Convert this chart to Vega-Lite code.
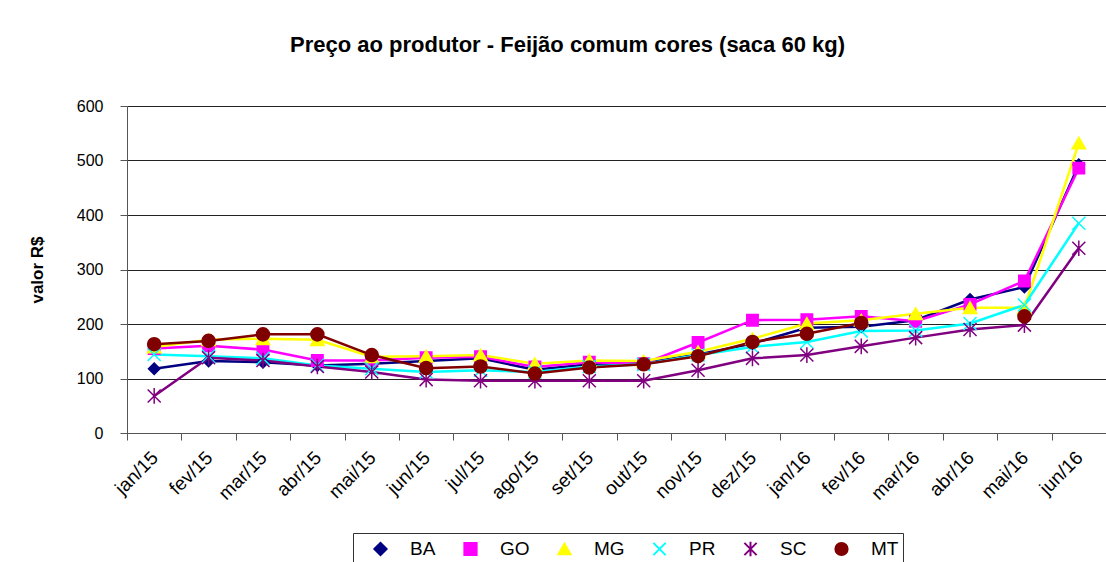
{
  "$schema": "https://vega.github.io/schema/vega-lite/v6.json",
  "width": 979,
  "height": 327,
  "autosize": {"type": "none"},
  "padding": {"left": 127, "top": 106, "right": 0, "bottom": 129},
  "background": "white",
  "config": {
    "font": "Liberation Sans",
    "view": {"stroke": null},
    "legend": {
      "orient": "none", "legendX": 226, "legendY": 427, "direction": "horizontal", "columns": 6,
      "strokeColor": "#333", "padding": 4, "symbolSize": 150, "symbolStrokeWidth": 2,
      "labelFont": "Liberation Sans", "labelFontSize": 19, "labelColor": "black",
      "symbolOffset": 14, "labelOffset": 20, "columnPadding": 11, "clipHeight": 24
    }
  },
  "title": {"text": "Preço ao produtor - Feijão comum cores (saca 60 kg)", "font": "Liberation Sans", "fontSize": 22, "fontWeight": "bold", "color": "black", "anchor": "middle", "frame": "group", "dx": -49, "offset": 41},
  "data": {"values": [
    {"mes":"jan/15","estado":"BA","valor":118},{"mes":"jan/15","estado":"GO","valor":155},{"mes":"jan/15","estado":"MG","valor":158},{"mes":"jan/15","estado":"PR","valor":144},{"mes":"jan/15","estado":"SC","valor":68},{"mes":"jan/15","estado":"MT","valor":163},
    {"mes":"fev/15","estado":"BA","valor":132},{"mes":"fev/15","estado":"GO","valor":160},{"mes":"fev/15","estado":"MG","valor":171},{"mes":"fev/15","estado":"PR","valor":141},{"mes":"fev/15","estado":"SC","valor":138},{"mes":"fev/15","estado":"MT","valor":169},
    {"mes":"mar/15","estado":"BA","valor":130},{"mes":"mar/15","estado":"GO","valor":153},{"mes":"mar/15","estado":"MG","valor":173},{"mes":"mar/15","estado":"PR","valor":137},{"mes":"mar/15","estado":"SC","valor":133},{"mes":"mar/15","estado":"MT","valor":181},
    {"mes":"abr/15","estado":"BA","valor":124},{"mes":"abr/15","estado":"GO","valor":133},{"mes":"abr/15","estado":"MG","valor":171},{"mes":"abr/15","estado":"PR","valor":124},{"mes":"abr/15","estado":"SC","valor":122},{"mes":"abr/15","estado":"MT","valor":181},
    {"mes":"mai/15","estado":"BA","valor":127},{"mes":"mai/15","estado":"GO","valor":133},{"mes":"mai/15","estado":"MG","valor":140},{"mes":"mai/15","estado":"PR","valor":118},{"mes":"mai/15","estado":"SC","valor":112},{"mes":"mai/15","estado":"MT","valor":143},
    {"mes":"jun/15","estado":"BA","valor":132},{"mes":"jun/15","estado":"GO","valor":138},{"mes":"jun/15","estado":"MG","valor":141},{"mes":"jun/15","estado":"PR","valor":112},{"mes":"jun/15","estado":"SC","valor":98},{"mes":"jun/15","estado":"MT","valor":119},
    {"mes":"jul/15","estado":"BA","valor":137},{"mes":"jul/15","estado":"GO","valor":140},{"mes":"jul/15","estado":"MG","valor":143},{"mes":"jul/15","estado":"PR","valor":115},{"mes":"jul/15","estado":"SC","valor":96},{"mes":"jul/15","estado":"MT","valor":122},
    {"mes":"ago/15","estado":"BA","valor":116},{"mes":"ago/15","estado":"GO","valor":121},{"mes":"ago/15","estado":"MG","valor":127},{"mes":"ago/15","estado":"PR","valor":112},{"mes":"ago/15","estado":"SC","valor":96},{"mes":"ago/15","estado":"MT","valor":109},
    {"mes":"set/15","estado":"BA","valor":126},{"mes":"set/15","estado":"GO","valor":130},{"mes":"set/15","estado":"MG","valor":133},{"mes":"set/15","estado":"PR","valor":122},{"mes":"set/15","estado":"SC","valor":96},{"mes":"set/15","estado":"MT","valor":120},
    {"mes":"out/15","estado":"BA","valor":129},{"mes":"out/15","estado":"GO","valor":127},{"mes":"out/15","estado":"MG","valor":132},{"mes":"out/15","estado":"PR","valor":126},{"mes":"out/15","estado":"SC","valor":96},{"mes":"out/15","estado":"MT","valor":126},
    {"mes":"nov/15","estado":"BA","valor":144},{"mes":"nov/15","estado":"GO","valor":166},{"mes":"nov/15","estado":"MG","valor":149},{"mes":"nov/15","estado":"PR","valor":143},{"mes":"nov/15","estado":"SC","valor":115},{"mes":"nov/15","estado":"MT","valor":141},
    {"mes":"dez/15","estado":"BA","valor":164},{"mes":"dez/15","estado":"GO","valor":207},{"mes":"dez/15","estado":"MG","valor":173},{"mes":"dez/15","estado":"PR","valor":158},{"mes":"dez/15","estado":"SC","valor":137},{"mes":"dez/15","estado":"MT","valor":167},
    {"mes":"jan/16","estado":"BA","valor":193},{"mes":"jan/16","estado":"GO","valor":208},{"mes":"jan/16","estado":"MG","valor":201},{"mes":"jan/16","estado":"PR","valor":167},{"mes":"jan/16","estado":"SC","valor":143},{"mes":"jan/16","estado":"MT","valor":182},
    {"mes":"fev/16","estado":"BA","valor":195},{"mes":"fev/16","estado":"GO","valor":214},{"mes":"fev/16","estado":"MG","valor":207},{"mes":"fev/16","estado":"PR","valor":187},{"mes":"fev/16","estado":"SC","valor":159},{"mes":"fev/16","estado":"MT","valor":202},
    {"mes":"mar/16","estado":"BA","valor":207},{"mes":"mar/16","estado":"GO","valor":205},{"mes":"mar/16","estado":"MG","valor":219},{"mes":"mar/16","estado":"PR","valor":188},{"mes":"mar/16","estado":"SC","valor":175},{"mes":"mar/16","estado":"MT","valor":null},
    {"mes":"abr/16","estado":"BA","valor":245},{"mes":"abr/16","estado":"GO","valor":236},{"mes":"abr/16","estado":"MG","valor":230},{"mes":"abr/16","estado":"PR","valor":201},{"mes":"abr/16","estado":"SC","valor":190},{"mes":"abr/16","estado":"MT","valor":null},
    {"mes":"mai/16","estado":"BA","valor":268},{"mes":"mai/16","estado":"GO","valor":279},{"mes":"mai/16","estado":"MG","valor":230},{"mes":"mai/16","estado":"PR","valor":235},{"mes":"mai/16","estado":"SC","valor":198},{"mes":"mai/16","estado":"MT","valor":214},
    {"mes":"jun/16","estado":"BA","valor":492},{"mes":"jun/16","estado":"GO","valor":486},{"mes":"jun/16","estado":"MG","valor":532},{"mes":"jun/16","estado":"PR","valor":385},{"mes":"jun/16","estado":"SC","valor":339},{"mes":"jun/16","estado":"MT","valor":null}
  ]},
  "encoding": {
    "x": {
      "field": "mes", "type": "nominal", "title": null,
      "sort": ["jan/15","fev/15","mar/15","abr/15","mai/15","jun/15","jul/15","ago/15","set/15","out/15","nov/15","dez/15","jan/16","fev/16","mar/16","abr/16","mai/16","jun/16"],
      "scale": {"type": "band", "paddingInner": 0, "paddingOuter": 0},
      "axis": {"tickBand": "extent", "labelAngle": -45, "labelAlign": "right", "labelBaseline": "top", "labelOffset": -6, "labelFont": "Liberation Sans", "labelFontSize": 19, "labelColor": "black", "labelPadding": 8, "tickSize": 7, "tickColor": "#555", "domainColor": "#555", "labelOverlap": false, "labelBound": false, "grid": false}
    },
    "y": {
      "field": "valor", "type": "quantitative", "title": "valor R$",
      "scale": {"domain": [0, 600], "nice": false},
      "axis": {"values": [0,100,200,300,400,500,600], "labelFont": "Liberation Sans", "labelFontSize": 16, "labelColor": "black", "labelPadding": 17, "tickSize": 7, "tickColor": "#555", "domainColor": "#555", "gridColor": "#222", "gridWidth": 1, "titleFont": "Liberation Sans", "titleFontSize": 17, "titleFontWeight": "bold", "titleColor": "black", "titlePadding": 30}
    },
    "stroke": {
      "field": "estado", "type": "nominal", "title": null,
      "scale": {"domain": ["BA","GO","MG","PR","SC","MT"], "range": ["#000080","#FF00FF","#FFFF00","#00FFFF","#800080","#800000"]}
    }
  },
  "layer": [
    {"mark": {"type": "line", "strokeWidth": 2.5}},
    {
      "transform": [{"filter": "datum.valor != null && (datum.estado === 'BA' || datum.estado === 'GO')"}],
      "mark": {"type": "point", "opacity": 1, "size": 130, "strokeWidth": 1.5},
      "encoding": {
        "shape": {"field": "estado", "type": "nominal", "title": null, "scale": {"domain": ["BA","GO","MG","PR","SC","MT"], "range": ["diamond","square","triangle-up","M-1,-1L1,1M1,-1L-1,1","M-1,-1L1,1M1,-1L-1,1M0,-1.2L0,1.2","circle"]}},
        "fill": {"field": "estado", "type": "nominal", "title": null, "scale": {"domain": ["BA","GO","MG","PR","SC","MT"], "range": ["#000080","#FF00FF","#FFFF00","transparent","transparent","#800000"]}}
      }
    },
    {
      "transform": [{"filter": "datum.valor != null && datum.estado === 'MG'"}],
      "mark": {"type": "point", "opacity": 1, "size": 180, "strokeWidth": 1.5},
      "encoding": {
        "shape": {"field": "estado", "type": "nominal", "title": null},
        "fill": {"field": "estado", "type": "nominal", "title": null}
      }
    },
    {
      "transform": [{"filter": "datum.valor != null && (datum.estado === 'PR' || datum.estado === 'SC')"}],
      "mark": {"type": "point", "opacity": 1, "size": 170, "strokeWidth": 1.5},
      "encoding": {
        "shape": {"field": "estado", "type": "nominal", "title": null},
        "fill": {"field": "estado", "type": "nominal", "title": null}
      }
    },
    {
      "transform": [{"filter": "datum.valor != null && datum.estado === 'MT'"}],
      "mark": {"type": "point", "opacity": 1, "size": 170, "strokeWidth": 1.5},
      "encoding": {
        "shape": {"field": "estado", "type": "nominal", "title": null},
        "fill": {"field": "estado", "type": "nominal", "title": null}
      }
    }
  ]
}
